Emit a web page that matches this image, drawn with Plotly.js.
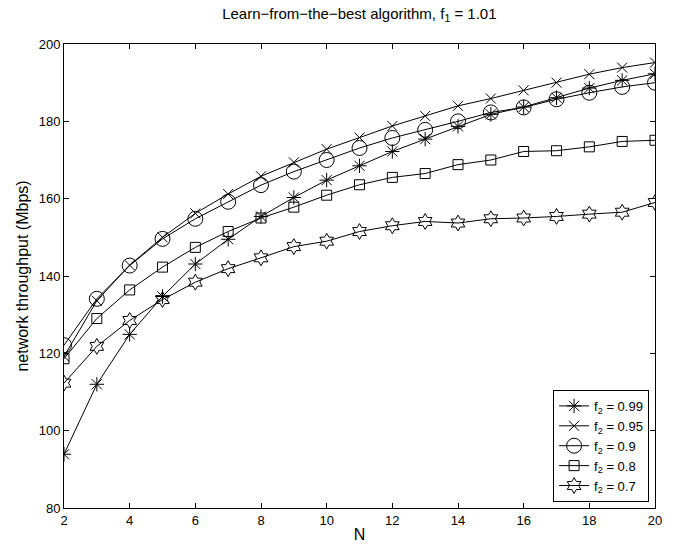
<!DOCTYPE html>
<html>
<head>
<meta charset="utf-8">
<script src="https://cdn.plot.ly/plotly-3.0.1.min.js"></script>
<style>body{margin:0;padding:0;background:#fff;}#chart{width:678px;height:548px;}</style>
</head>
<body>
<div id="chart"></div>
<script>
const N = [2,3,4,5,6,7,8,9,10,11,12,13,14,15,16,17,18,19,20];
const f099 = [93.9,112.0,124.9,134.7,143.1,149.5,155.4,160.3,164.8,168.5,172.2,175.4,178.7,181.8,183.7,186.1,188.6,190.6,192.3];
const f095 = [119.2,133.6,142.8,150.0,156.2,161.2,165.8,169.4,172.8,175.8,178.8,181.4,184.0,185.9,188.0,190.0,192.2,193.9,195.2];
const f090 = [122.1,134.1,142.7,149.6,154.8,159.2,163.5,167.0,170.0,173.1,175.7,177.8,180.0,182.3,183.6,185.7,187.4,188.9,190.0];
const f080 = [118.6,129.0,136.4,142.3,147.4,151.5,155.0,157.8,160.9,163.6,165.5,166.5,168.8,170.0,172.2,172.4,173.4,174.8,175.1];
const f070 = [112.3,121.8,128.5,133.9,138.4,141.9,144.7,147.6,149.0,151.5,153.0,154.1,153.7,154.8,155.0,155.4,156.0,156.5,159.0];
const seriesNames = ['f<sub>2</sub> = 0.99','f<sub>2</sub> = 0.95','f<sub>2</sub> = 0.9','f<sub>2</sub> = 0.8','f<sub>2</sub> = 0.7'];
const xTicks = [2,4,6,8,10,12,14,16,18,20];
const yTicks = [80,100,120,140,160,180,200];

const series = [f099,f095,f090,f080,f070];
const symbols = ['asterisk-open','x-thin-open','circle-open','square-open','hexagram-open'];
const sizes = [12,10,15,10,12];

const traces = series.map((y,i)=>({
  x: N, y: y, name: seriesNames[i], type:'scatter', mode:'lines+markers',
  line:{color:'#000', width:1},
  marker:{symbol:symbols[i], size:sizes[i], color:'#000', line:{color:'#000', width:1}}
}));

const font = {family:'"Liberation Sans", Arial, sans-serif', color:'#000'};
const layout = {
  width:678, height:548,
  margin:{l:64, r:23, t:44, b:40},
  paper_bgcolor:'#fff', plot_bgcolor:'#fff',
  font: Object.assign({size:13}, font),
  title:{text:'Learn\u2212from\u2212the\u2212best algorithm, f<sub>1</sub> = 1.01', x:0.53, xanchor:'center', y:0.985, yanchor:'top', font:Object.assign({size:15}, font)},
  xaxis:{range:[2,20], tickvals:xTicks, ticktext:xTicks.map(String), ticks:'inside', ticklen:5, tickcolor:'#000',
    showline:true, linecolor:'#000', linewidth:1, mirror:'ticks', showgrid:false, zeroline:false,
    tickfont:Object.assign({size:13}, font),
    title:{text:'N', font:Object.assign({size:16}, font), standoff:2}},
  yaxis:{range:[80,200], tickvals:yTicks, ticktext:yTicks.map(String), ticks:'inside', ticklen:5, tickcolor:'#000',
    showline:true, linecolor:'#000', linewidth:1, mirror:'ticks', showgrid:false, zeroline:false,
    tickfont:Object.assign({size:13}, font),
    title:{text:'network throughput (Mbps)', font:Object.assign({size:16}, font), standoff:6}},
  showlegend:true,
  legend:{x:0.99, xanchor:'right', y:0.013, yanchor:'bottom', bgcolor:'#fff', bordercolor:'#000', borderwidth:1,
    font:Object.assign({size:13}, font), tracegroupgap:0, itemwidth:30}
};
Plotly.newPlot('chart', traces, layout, {displayModeBar:false, staticPlot:true});
</script>
</body>
</html>
